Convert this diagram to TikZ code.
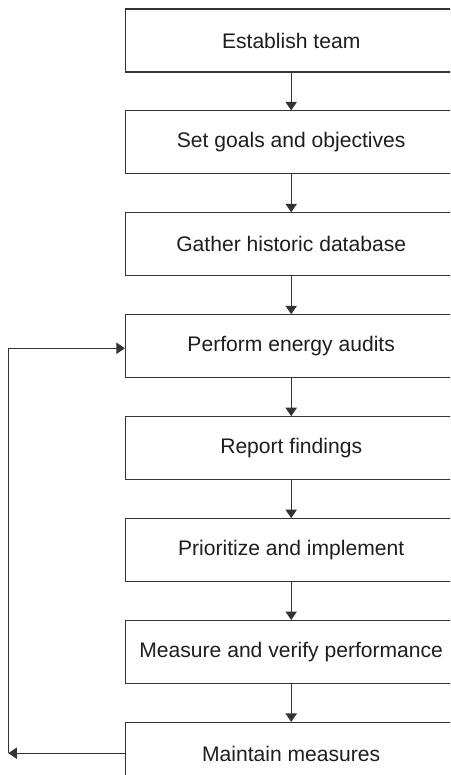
\documentclass[tikz,border=0pt]{standalone}
\usepackage{fontspec}
\setmainfont{Liberation Sans}
\usetikzlibrary{arrows.meta,positioning}
\definecolor{boxline}{HTML}{333333}
\definecolor{boxtext}{HTML}{1E1E1E}

\begin{document}
\begin{tikzpicture}[
  stage/.style={draw=boxline,line width=0.8pt,minimum width=8.29cm,minimum height=1.575cm,
                inner sep=0pt,font=\fontsize{15}{18}\selectfont,text=boxtext},
  arr/.style={-{Triangle[length=6pt,width=8pt]},line width=0.8pt,color=boxline},
]
  \useasboundingbox (0,0) rectangle (11.25,-19.375);
  \clip (0,0) rectangle (11.25,-19.375);

  \node[stage] (team) at (7.28,-1.0125) {Establish team};
  \node[stage,below=0.945cm of team] (goals) {Set goals and objectives};
  \node[stage,below=0.945cm of goals] (data) {Gather historic database};
  \node[stage,below=0.945cm of data] (audit) {Perform energy audits};
  \node[stage,below=0.945cm of audit] (report) {Report findings};
  \node[stage,below=0.945cm of report] (prio) {Prioritize and implement};
  \node[stage,below=0.945cm of prio] (verify) {Measure and verify performance};
  \node[stage,below=0.945cm of verify] (maint) {Maintain measures};

  \draw[arr] (team) -- (goals);
  \draw[arr] (goals) -- (data);
  \draw[arr] (data) -- (audit);
  \draw[arr] (audit) -- (report);
  \draw[arr] (report) -- (prio);
  \draw[arr] (prio) -- (verify);
  \draw[arr] (verify) -- (maint);

  % feedback loop back to the audits
  \coordinate (back) at (0.21,-18.83);
  \draw[arr] (maint.west |- back) -- (back);
  \draw[arr] (back) |- ([yshift=-0.05cm]audit.west);
\end{tikzpicture}
\end{document}
